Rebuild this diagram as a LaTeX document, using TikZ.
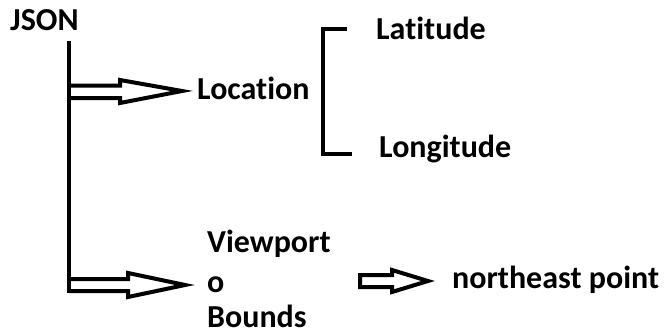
\documentclass[tikz,border=0pt]{standalone}
\usepackage{fontspec}
\setmainfont[Ligatures={NoCommon,NoRare,NoContextual}]{Carlito}
\begin{document}
\begin{tikzpicture}[x=1pt,y=-1pt,
  lbl/.style={anchor=base west,inner sep=0pt,font=\fontsize{32}{38}\selectfont\bfseries},
  thick line/.style={line width=4pt},
  hollow/.style={line width=4pt,line join=miter}]
\useasboundingbox (0,0) rectangle (665,335);
% texts
\node[lbl] (json) at (10,30) {JSON};
\node[lbl] (loc) at (197,99) {Location};
\node[lbl] (lat) at (376,39) {Latitude};
\node[lbl] (lon) at (379,157) {Longitude};
\node[lbl] (vp1) at (207,252) {Viewport};
\node[lbl] (vp2) at (207,292) {o};
\node[lbl] (vp3) at (207,327) {Bounds};
\node[lbl] (ne) at (452,288) {northeast point};
% tree trunk
\coordinate (ttop) at (69,41);
\coordinate (tbot) at (69,293);
\draw[thick line] (ttop) -- (tbot);
% arrow to Location
\draw[hollow] (69,85.5) -- (120,85.5) -- (120,80) -- (182,91) -- (120,103) -- (120,98) -- (69,98);
% arrow to Viewport Bounds
\draw[hollow] (69,279) -- (128,279) -- (128,273) -- (185,285) -- (128,297) -- (128,291) -- (69,291);
% bracket
\draw[thick line] (347,29) -- (323,29) -- (323,154) -- (352,154);
% small arrow
\draw[hollow] (360,275) -- (392,275) -- (392,270) -- (428,281) -- (392,292) -- (392,287) -- (360,287) -- cycle;
\end{tikzpicture}
\end{document}
